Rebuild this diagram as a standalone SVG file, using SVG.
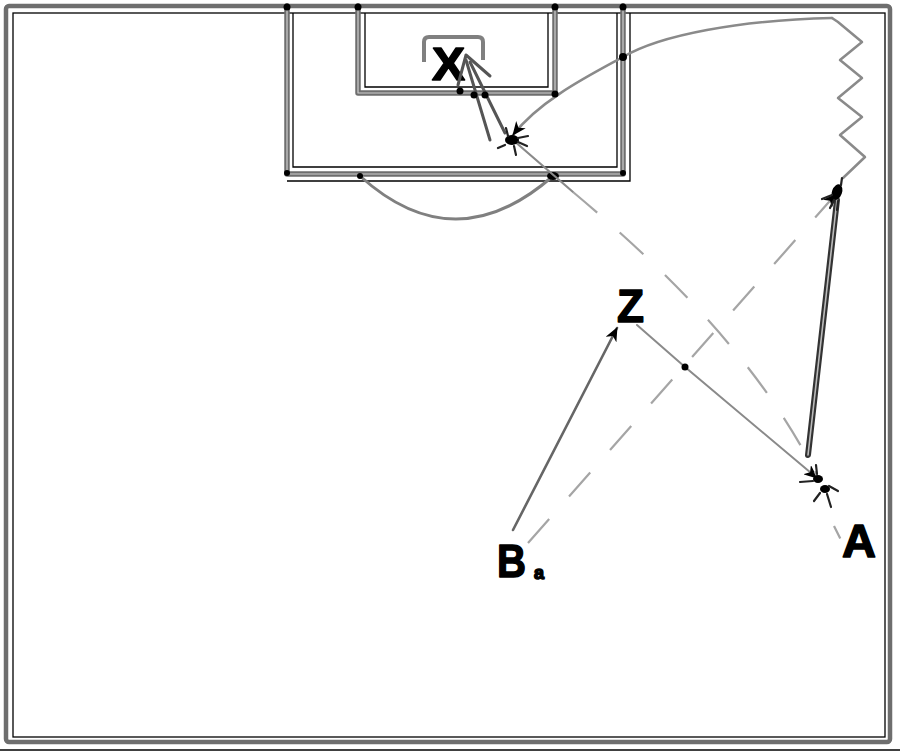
<svg xmlns="http://www.w3.org/2000/svg" width="900" height="752" viewBox="0 0 900 752">
<style>
.court{fill:none;stroke:#6e6e6e;stroke-width:5.5;stroke-linejoin:round;stroke-linecap:round}
.core{fill:none;stroke:#cfcfcf;stroke-width:1.2;stroke-linejoin:round}
.edge{fill:none;stroke:#000;stroke-width:1.3}
.move{fill:none;stroke:#8a8a8a;stroke-width:2.5;stroke-linejoin:round;stroke-linecap:round}
.pass{fill:none;stroke:#666;stroke-width:2.6;stroke-linecap:round}
.dash{fill:none;stroke:#a5a5a5;stroke-width:2.2;stroke-dasharray:32 30}
.dblo{fill:none;stroke:#333;stroke-width:6;stroke-linecap:round;stroke-linejoin:round}
.dbli{fill:none;stroke:#bbb;stroke-width:1.6;stroke-linecap:round}
.dot{fill:#000}
.tick{fill:none;stroke:#222;stroke-width:2.2;stroke-linecap:round}
.lbl{font-family:"Liberation Sans",Arial,sans-serif;font-weight:bold;font-size:47px;fill:#000;stroke:#000;stroke-width:1.5;stroke-linejoin:round}
</style>
<defs>
<marker id="arr" markerWidth="16" markerHeight="12" refX="13" refY="6" orient="auto" markerUnits="userSpaceOnUse">
<path d="M0,0 L14,6 L0,12 L4,6 Z" fill="#000"/>
</marker>
</defs>

<g id="court">
<rect x="6" y="6" width="884" height="736" rx="3" fill="#fff" stroke="#6e6e6e" stroke-width="4.5"/>
<rect x="13" y="13" width="872" height="724" class="edge"/>
<line x1="0" y1="750" x2="900" y2="750" class="edge"/>
<path class="court" d="M287,6 L287,174 L623,174 L623,6"/>
<path class="core" d="M287,6 L287,174 L623,174 L623,6"/>
<path class="edge" d="M293,13 L293,167 L617,167 L617,13"/>
<path class="edge" d="M287,181 L630,181 L630,13"/>
<path class="court" d="M358,6 L358,93 L555,93 L555,6"/>
<path class="core" d="M358,6 L358,93 L555,93 L555,6"/>
<path class="edge" d="M365,13 L365,87 L548,87 L548,13"/>
<path d="M360,176 Q455,262 553,176" fill="none" stroke="#808080" stroke-width="3"/>
<path d="M424,62 L424,42 Q424,37 429,37 L478,37 Q483,37 483,42 L483,60" fill="none" stroke="#808080" stroke-width="4"/>
<circle class="dot" cx="287" cy="7" r="3.5"/>
<circle class="dot" cx="358" cy="7" r="3.5"/>
<circle class="dot" cx="555" cy="7" r="3.5"/>
<circle class="dot" cx="623" cy="7" r="3.5"/>
<circle class="dot" cx="287" cy="173" r="3"/>
<circle class="dot" cx="623" cy="173" r="3"/>
<circle class="dot" cx="360" cy="176" r="3"/>
<ellipse class="dot" cx="553" cy="176" rx="6" ry="4"/>
</g>

<g id="player-X"><text class="lbl" x="432" y="80" textLength="33" lengthAdjust="spacingAndGlyphs">X</text></g>
<g id="player-Z"><text class="lbl" x="617" y="322" textLength="27" lengthAdjust="spacingAndGlyphs">Z</text></g>
<g id="player-B"><text class="lbl" x="497" y="577" textLength="29" lengthAdjust="spacingAndGlyphs">B</text><text x="534" y="579" font-family="'Liberation Sans',Arial,sans-serif" font-weight="bold" font-size="18" fill="#000" stroke="#000" stroke-width="1.5">a</text></g>
<g id="player-A"><text class="lbl" x="842" y="557" textLength="34" lengthAdjust="spacingAndGlyphs">A</text></g>

<g id="connectors">
<path class="pass" d="M513,530 L617,328" marker-end="url(#arr)"/>
<path class="move" style="stroke-width:2" d="M637,325 L685,367 L817,478" marker-end="url(#arr)"/>
<circle class="dot" cx="685" cy="367" r="3.5"/>
<path class="dash" d="M528,543 L836,194" marker-end="url(#arr)"/>
<path class="move" style="stroke-width:2.2" d="M513,140 L573,192"/>
<path class="dash" d="M573,192 C660,265 760,360 818,478"/>
<path class="dash" style="stroke-dasharray:14 40" d="M834,526 L841,540"/>
<path class="dblo" d="M808,455 L837,200"/>
<path class="dbli" d="M808,455 L837,200"/>
<path class="move" d="M843,178 L865,157 L840,135 L862,117 L838,98 L862,78 L840,60 L862,42 L838,22 L832,18"/>
<path class="move" d="M832,18 C740,20 660,35 623,57 C590,75 540,100 513,135" marker-end="url(#arr)"/>
<circle class="dot" cx="623" cy="57" r="4"/>
<circle class="dot" cx="555" cy="94" r="3.5"/>
<path class="move" style="stroke:#555;stroke-width:3" d="M490,140 L466,60"/>
<path class="move" style="stroke:#555;stroke-width:3" d="M505,133 L470,62"/>
<path class="move" style="stroke:#555;stroke-width:3" d="M458,85 L466,55 L490,76"/>
<circle class="dot" cx="460" cy="91" r="3.5"/>
<circle class="dot" cx="474" cy="95" r="3.5"/>
<circle class="dot" cx="485" cy="95" r="3.5"/>
<ellipse class="dot" cx="512" cy="140" rx="7" ry="5"/>
<path class="tick" d="M505,145 L498,148 M514,146 L516,155 M518,138 L528,136 M518,142 L527,146 M508,136 L506,128"/>
<ellipse class="dot" cx="837" cy="192" rx="5" ry="8" transform="rotate(20 837 192)"/>
<path class="tick" d="M832,195 L822,199 M834,200 L830,208 M838,201 L837,210 M841,185 L842,178"/>
<ellipse class="dot" cx="818" cy="479" rx="5" ry="4"/>
<ellipse class="dot" cx="825" cy="489" rx="5" ry="4"/>
<path class="tick" d="M813,481 L800,482 M820,493 L814,501 M827,494 L831,507 M829,486 L838,491 M817,474 L816,465"/>
</g>
</svg>
